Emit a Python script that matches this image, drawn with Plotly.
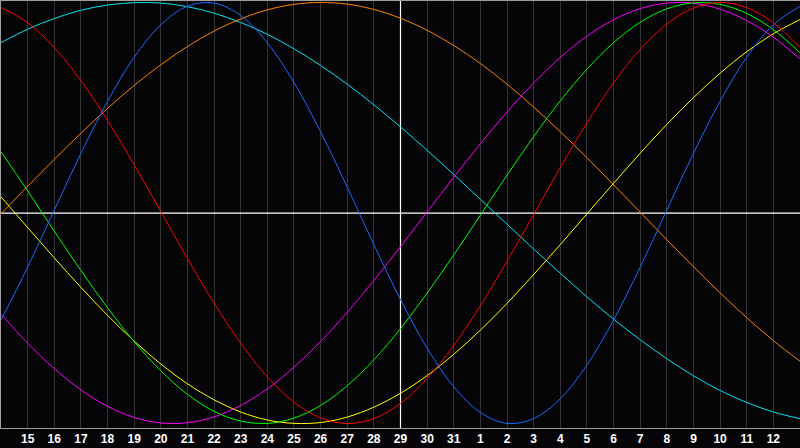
import plotly.graph_objects as go

# day index (x) and labels
days = list(range(14, 45))
tick_days = list(range(15, 44))
tick_labels = [str(d) for d in range(15, 32)] + [str(d) for d in range(1, 13)]
today = 29

# cycle values read per day, days 14..44
physical = [-0.508, -0.257, 0.014, 0.283, 0.531, 0.740, 0.894, 0.982, 0.997, 0.938, 0.809, 0.620, 0.386,
            0.123, -0.150, -0.411, -0.642, -0.825, -0.947, -0.999, -0.976, -0.882, -0.722, -0.508, -0.257,
            0.014, 0.283, 0.531, 0.740, 0.894, 0.982]
emotional = [0.976, 0.904, 0.786, 0.629, 0.440, 0.229, 0.007, -0.216, -0.428, -0.618, -0.778, -0.898,
             -0.973, -1.000, -0.976, -0.904, -0.786, -0.629, -0.440, -0.229, -0.007, 0.216, 0.428, 0.618,
             0.778, 0.898, 0.973, 1.000, 0.976, 0.904, 0.786]
intellectual = [0.291, 0.105, -0.086, -0.273, -0.450, -0.611, -0.749, -0.861, -0.942, -0.988, -0.999,
                -0.974, -0.914, -0.820, -0.697, -0.549, -0.380, -0.199, -0.010, 0.180, 0.363, 0.533,
                0.683, 0.809, 0.906, 0.970, 0.998, 0.991, 0.948, 0.871, 0.762]
intuitive = [-0.480, -0.618, -0.739, -0.840, -0.918, -0.971, -0.997, -0.996, -0.968, -0.914, -0.835,
             -0.732, -0.610, -0.472, -0.320, -0.160, 0.005, 0.170, 0.329, 0.480, 0.618, 0.739, 0.840,
             0.918, 0.971, 0.997, 0.996, 0.968, 0.914, 0.835, 0.732]
aesthetic = [0.077, -0.069, -0.213, -0.353, -0.486, -0.608, -0.717, -0.811, -0.887, -0.945, -0.983,
             -0.999, -0.995, -0.969, -0.922, -0.856, -0.772, -0.671, -0.556, -0.429, -0.292, -0.150,
             -0.004, 0.141, 0.284, 0.421, 0.548, 0.664, 0.766, 0.851, 0.919]
awareness = [-0.004, 0.127, 0.255, 0.379, 0.497, 0.606, 0.704, 0.791, 0.864, 0.922, 0.965, 0.991, 1.000,
             0.992, 0.967, 0.925, 0.868, 0.796, 0.710, 0.612, 0.503, 0.386, 0.263, 0.134, 0.004, -0.127,
             -0.255, -0.379, -0.497, -0.606, -0.704]
spiritual = [0.809, 0.873, 0.924, 0.963, 0.988, 0.999, 0.997, 0.980, 0.949, 0.905, 0.849, 0.780, 0.701,
             0.612, 0.514, 0.409, 0.298, 0.183, 0.065, -0.053, -0.171, -0.286, -0.398, -0.504, -0.602,
             -0.692, -0.773, -0.843, -0.900, -0.945, -0.977]

series = [
    ("spiritual", spiritual, "#00e5ee"),
    ("awareness", awareness, "#ff8000"),
    ("aesthetic", aesthetic, "#ffff00"),
    ("intuitive", intuitive, "#ff00ff"),
    ("intellectual", intellectual, "#00ff00"),
    ("emotional", emotional, "#ff0000"),
    ("physical", physical, "#1a6aff"),
]

y_range = [-1.021, 1.007]

fig = go.Figure()
# white reference lines (today marker and zero line), under the curves
fig.add_trace(go.Scatter(x=[today, today], y=y_range, mode="lines",
                         line=dict(color="white", width=1.2), hoverinfo="skip", showlegend=False))
fig.add_trace(go.Scatter(x=[days[0], days[-1]], y=[0, 0], mode="lines",
                         line=dict(color="white", width=1.2), hoverinfo="skip", showlegend=False))
for name, vals, col in series:
    fig.add_trace(go.Scatter(
        x=days, y=vals, mode="lines", name=name,
        line=dict(color=col, width=1, shape="spline", smoothing=1.0),
        hoverinfo="skip", showlegend=False,
    ))

bg = "#050508"
fig.update_layout(
    width=800, height=448,
    margin=dict(l=1, r=0, t=1, b=20),
    paper_bgcolor=bg, plot_bgcolor=bg,
    xaxis=dict(range=[14, 44], tickvals=tick_days, ticktext=tick_labels,
               showgrid=True, gridcolor="#333333", gridwidth=1,
               zeroline=False, ticks="", ticklen=0,
               showline=True, linecolor="#a0a0a0", linewidth=1, mirror=True,
               tickfont=dict(family="Liberation Sans", size=12, color="white", weight="bold")),
    yaxis=dict(range=y_range, showgrid=False, zeroline=False,
               showticklabels=False, ticks="",
               showline=True, linecolor="#a0a0a0", linewidth=1, mirror=False),
)

fig.write_html("out.html", config={"displayModeBar": False},
               post_script="document.body.style.margin='0';document.body.style.overflow='hidden';document.body.style.background='#050508';")
